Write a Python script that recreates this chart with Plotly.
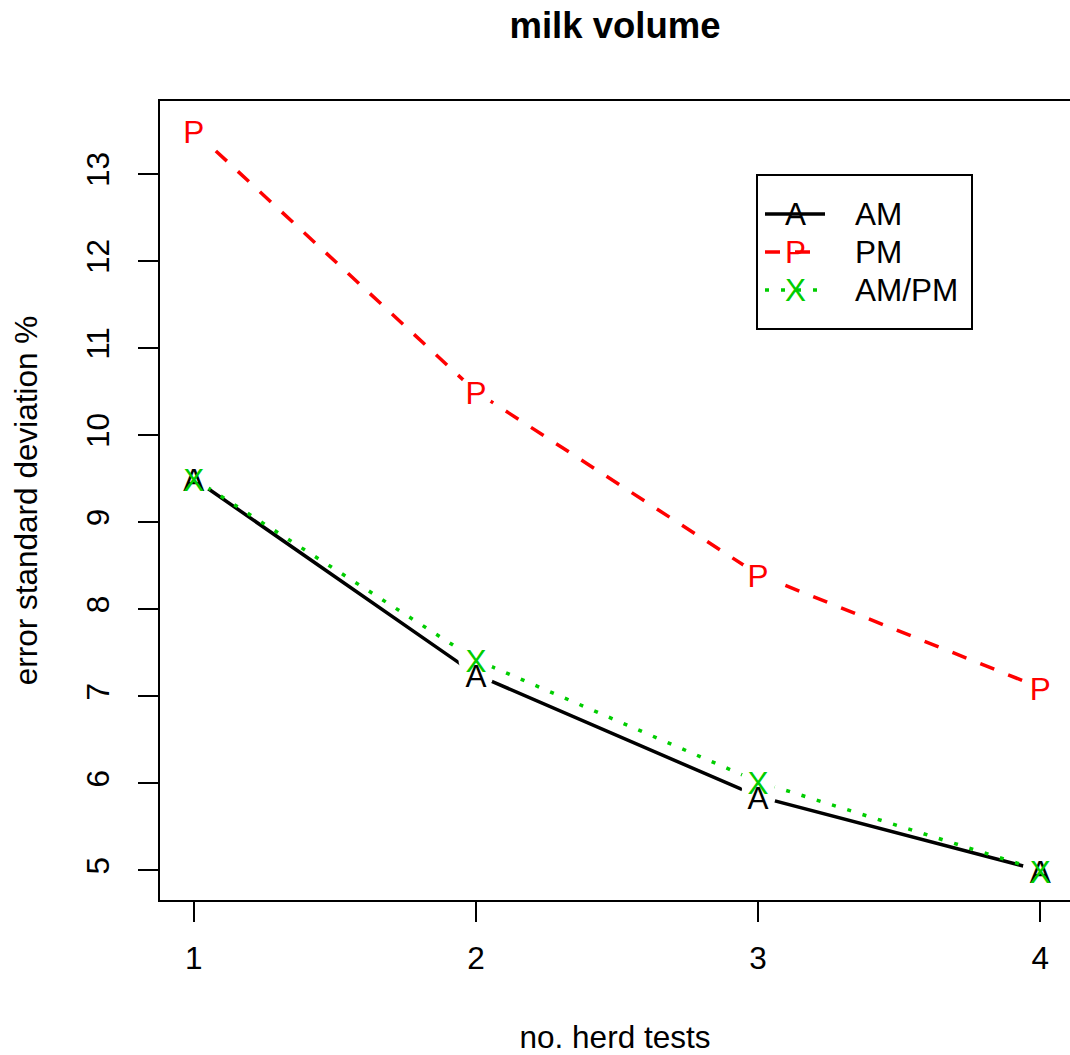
import plotly.graph_objects as go

# ---- data ----
tests = [1, 2, 3, 4]
am = [9.5, 7.25, 5.85, 5.0]
pm = [13.5, 10.5, 8.4, 7.1]
ampm = [9.5, 7.42, 6.02, 5.0]
y_ticks = [5, 6, 7, 8, 9, 10, 11, 12, 13]
x_ticks = [1, 2, 3, 4]

series = [
    dict(name="AM", y=am, sym="A", color="#000000", dash="solid"),
    dict(name="PM", y=pm, sym="P", color="#FF0000", dash="15px,15px"),
    dict(name="AM/PM", y=ampm, sym="X", color="#00CD00", dash="4px,12px"),
]

FONT = "Liberation Sans, Arial, Helvetica, sans-serif"
FS = 31.5
W, H = 1070, 1055
L, R, T, B = 160, 0, 101, 155
PW, PH = W - L - R, H - T - B
YR = [4.66, 13.84]
PX_PER_Y = PH / (YR[1] - YR[0])
TXT_DROP = 4.5 / PX_PER_Y  # compensate glyph centering of text marks

fig = go.Figure()

# lines with white gaps around points (R type="b")
for s in series:
    fig.add_trace(go.Scatter(
        x=tests, y=s["y"], mode="lines+markers",
        line=dict(color=s["color"], width=3.5, dash=s["dash"]),
        marker=dict(color="white", size=35, line=dict(width=0)),
        showlegend=False, hoverinfo="skip"))

# point characters
for s in series:
    fig.add_trace(go.Scatter(
        x=tests, y=s["y"], mode="text", text=[s["sym"]] * len(tests),
        textposition="middle center", yaxis="y2",
        textfont=dict(family=FONT, size=FS, color=s["color"]),
        showlegend=False, name=s["name"]))

# ---- manual legend (R style) ----
def px(xp):
    return (xp - L) / PW

def py(yp):
    return (T + PH - yp) / PH

fig.add_shape(type="rect", xref="paper", yref="paper",
              x0=px(757), x1=px(972), y0=py(329), y1=py(175),
              line=dict(color="black", width=2), fillcolor="white", layer="above")
rows = [214, 252, 290]
for s, ry in zip(series, rows):
    fig.add_shape(type="line", xref="paper", yref="paper",
                  x0=px(765), x1=px(825), y0=py(ry), y1=py(ry),
                  line=dict(color=s["color"], width=3.5, dash=s["dash"]), layer="above")
    fig.add_annotation(xref="paper", yref="paper", x=px(795), y=py(ry),
                       text=s["sym"], showarrow=False, xanchor="center", yanchor="middle",
                       font=dict(family=FONT, size=FS, color=s["color"]))
    fig.add_annotation(xref="paper", yref="paper", x=px(853), y=py(ry),
                       text=s["name"], showarrow=False, xanchor="left", yanchor="middle",
                       font=dict(family=FONT, size=FS, color="black"))

fig.update_layout(
    width=W, height=H,
    margin=dict(l=L, r=R, t=T, b=B, autoexpand=False),
    paper_bgcolor="white", plot_bgcolor="white",
    font=dict(family=FONT, size=FS, color="black"),
    title=dict(text="<b>milk volume</b>", x=0.5, xref="paper", xanchor="center",
               y=1 - 25 / H, yref="container", yanchor="middle",
               font=dict(family=FONT, size=36.5, color="black")),
    showlegend=False,
    xaxis=dict(range=[0.88, 0.88 + PW / 282.1], tickvals=x_ticks,
               ticktext=[str(v) for v in x_ticks],
               showgrid=False, zeroline=False,
               showline=True, linecolor="black", linewidth=2, mirror=True,
               ticks="outside", ticklen=20, tickwidth=2, tickcolor="black",
               ticklabelstandoff=9,
               title=dict(text="no. herd tests", standoff=55,
                          font=dict(family=FONT, size=FS))),
    yaxis=dict(range=YR, tickvals=y_ticks,
               ticktext=[str(v) for v in y_ticks], tickangle=-90,
               showgrid=False, zeroline=False,
               showline=True, linecolor="black", linewidth=2, mirror=False,
               ticks="outside", ticklen=20, tickwidth=2, tickcolor="black",
               ticklabelstandoff=16,
               title=dict(text="error standard deviation %", standoff=33,
                          font=dict(family=FONT, size=FS))),
    yaxis2=dict(range=[YR[0] + TXT_DROP, YR[1] + TXT_DROP], overlaying="y",
                visible=False, showgrid=False, zeroline=False),
)

fig.write_html("out.html")
